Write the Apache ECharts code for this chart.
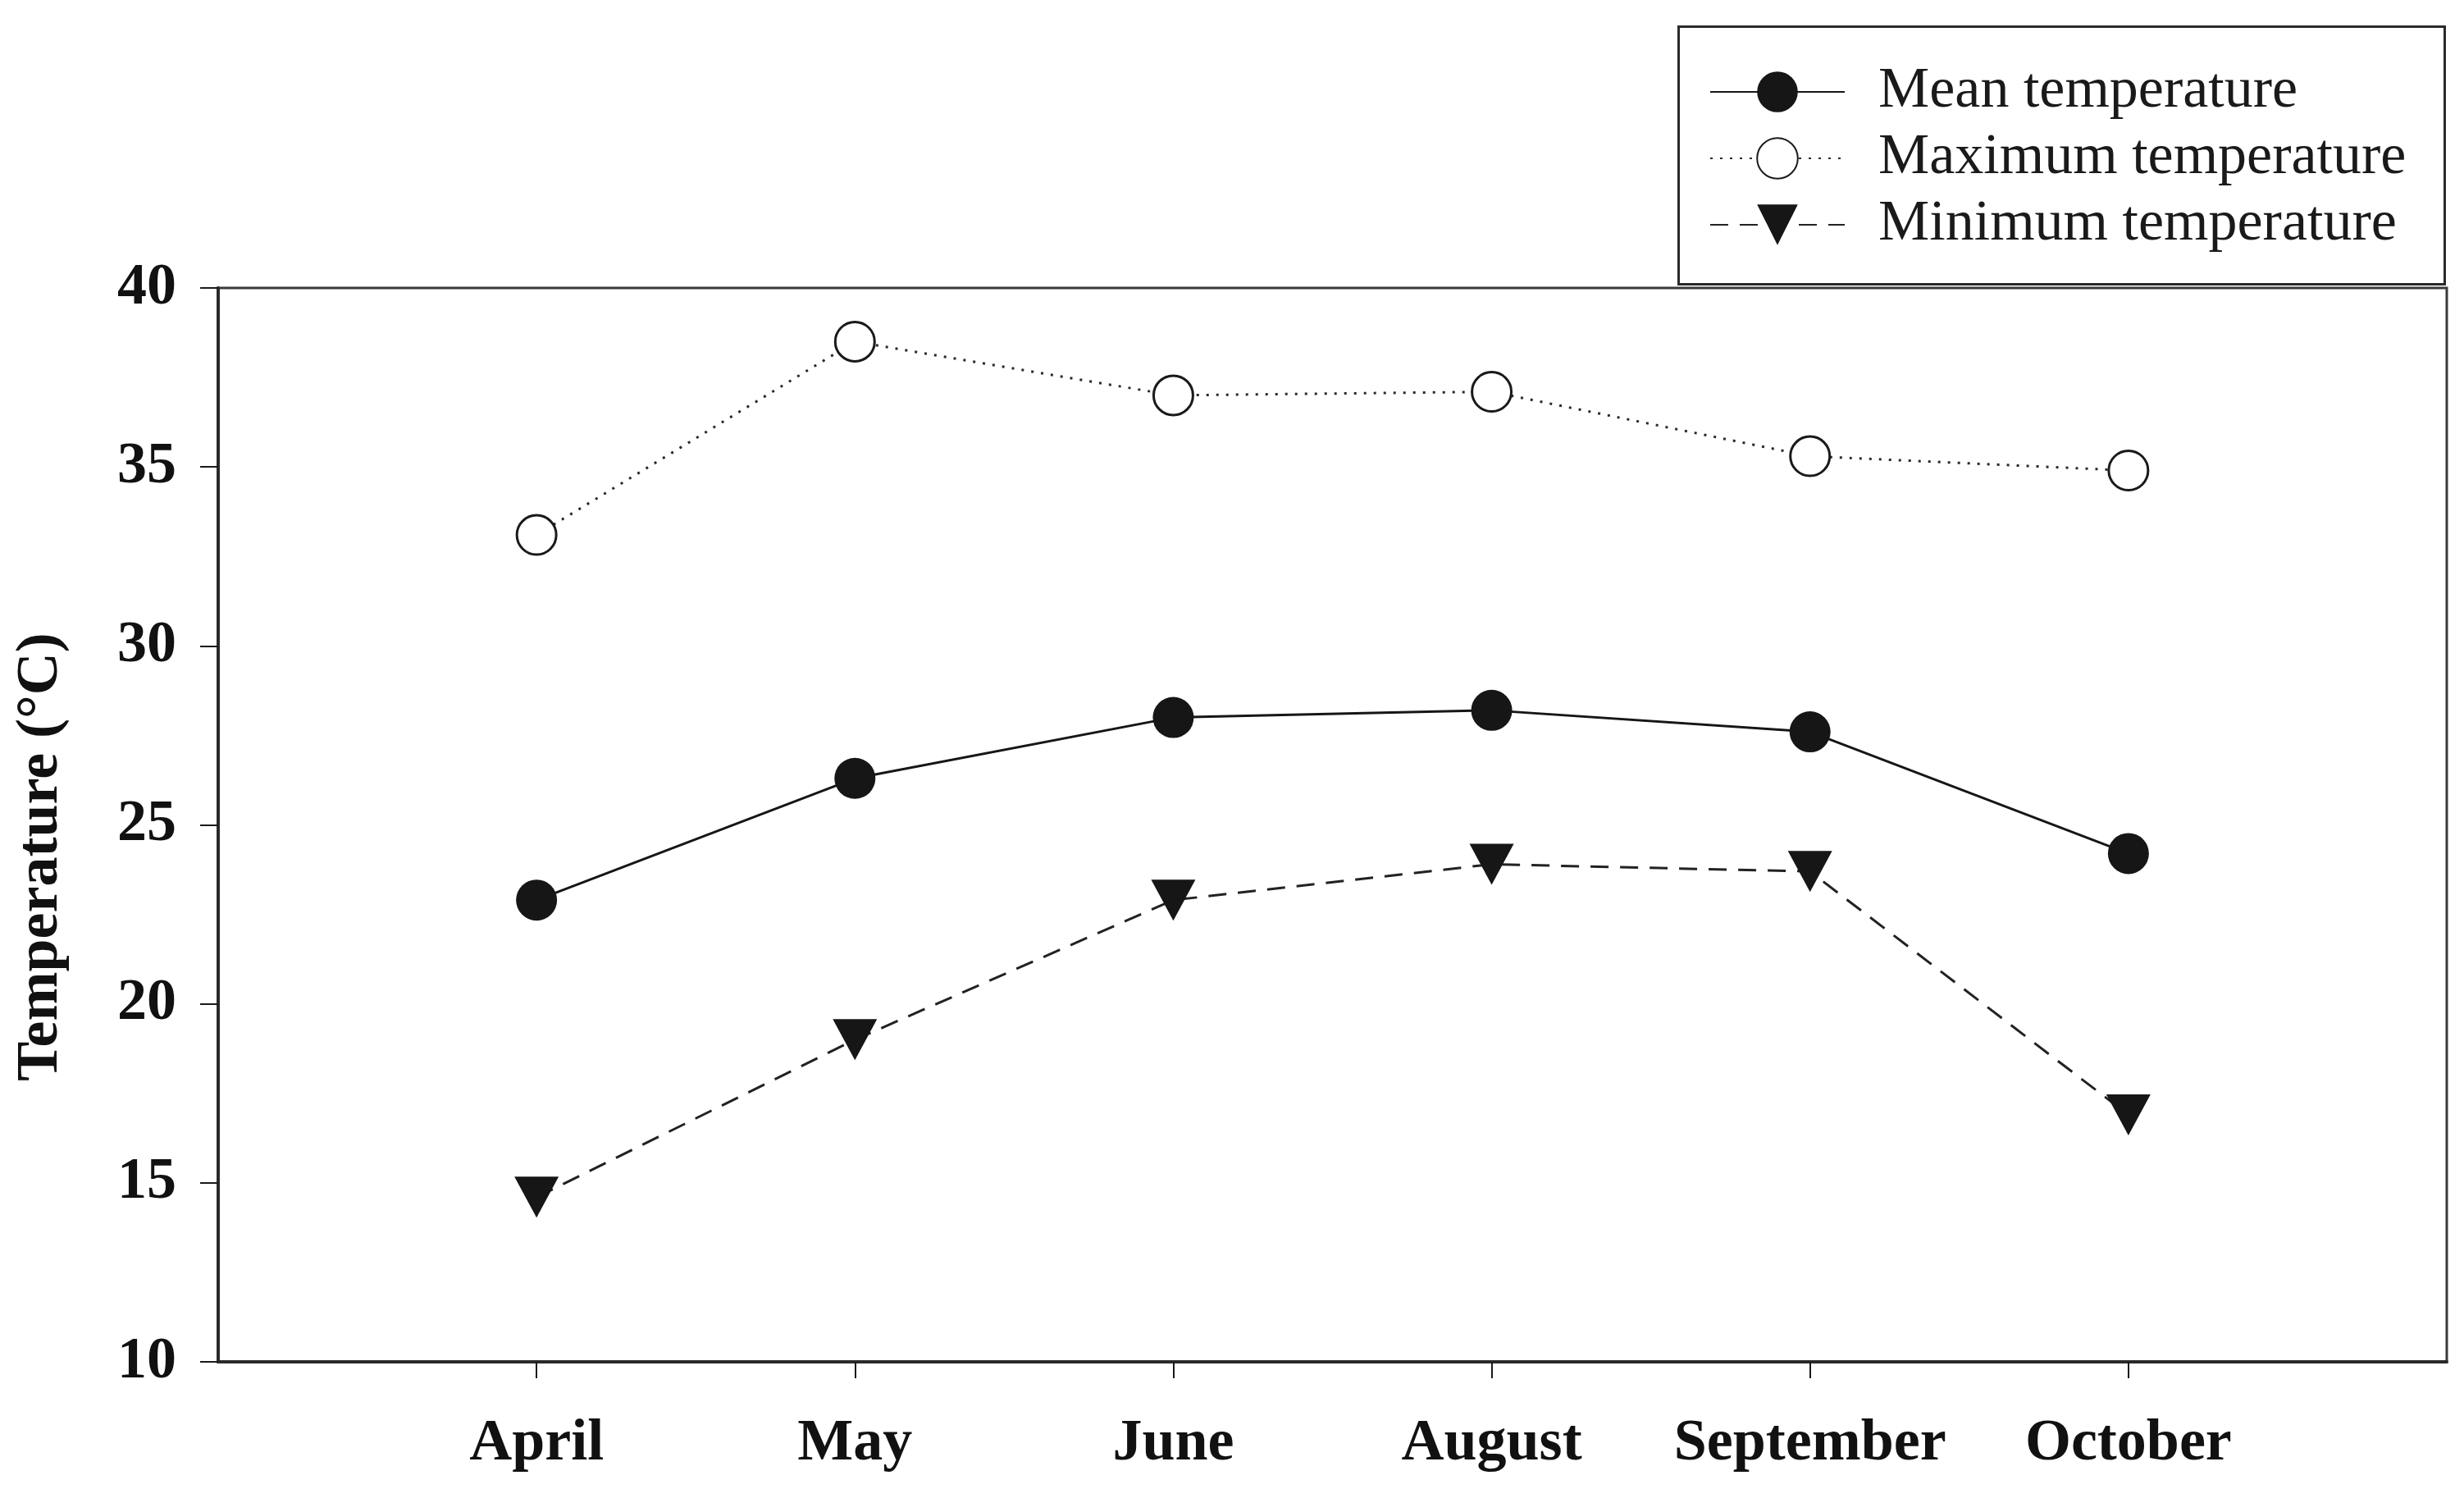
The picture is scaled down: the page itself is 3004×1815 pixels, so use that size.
<!DOCTYPE html>
<html>
<head>
<meta charset="utf-8">
<script src="https://cdn.jsdelivr.net/npm/echarts@6/dist/echarts.min.js"></script>
<style>
html,body{margin:0;padding:0;background:#fff;}
#chart{width:3004px;height:1815px;}
</style>
</head>
<body>
<div id="chart"></div>
<script>
// Data
const months = ['April', 'May', 'June', 'August', 'September', 'October'];
const meanTemp = [22.9, 26.3, 28.0, 28.2, 27.6, 24.2];
const maxTemp = [33.1, 38.5, 37.0, 37.1, 35.3, 34.9];
const minTemp = [14.6, 19.0, 22.9, 23.9, 23.7, 16.9];
const yTicks = [10, 15, 20, 25, 30, 35, 40];

// padded categories so that the first/last months sit one slot in from the frame
const xCategories = [' '].concat(months, ['  ']);

const FONT = "'Liberation Serif', 'Times New Roman', serif";
const toPairs = arr => arr.map((v, i) => [months[i], v]);

const chart = echarts.init(document.getElementById('chart'), null, {renderer: 'canvas'});
chart.setOption({
  backgroundColor: '#ffffff',
  animation: false,
  grid: {
    left: 266, right: 21, top: 351, bottom: 155,
    show: true, borderColor: '#3a3a3a', borderWidth: 3, backgroundColor: 'transparent'
  },
  graphic: [{
    type: 'rect', left: 2045, top: 31, z: 0,
    shape: {width: 934, height: 314},
    style: {fill: '#fff', stroke: '#2a2a2a', lineWidth: 3}
  }],
  legend: {
    orient: 'vertical', left: 2079, top: 72,
    itemWidth: 164, itemHeight: 62, itemGap: 11,
    selectedMode: false, z: 10,
    textStyle: {fontFamily: FONT, fontSize: 70, color: '#1a1a1a', padding: [0, 0, 0, 36], lineHeight: 62},
    data: ['Mean temperature', 'Maximum temperature', 'Minimum temperature']
  },
  xAxis: {
    type: 'category', data: xCategories, boundaryGap: false,
    axisLine: {lineStyle: {color: '#2a2a2a', width: 4}},
    axisTick: {show: true, inside: false, length: 20, lineStyle: {color: '#1a1a1a', width: 2},
      interval: (idx, val) => val.trim() !== ''},
    axisLabel: {interval: 0, margin: 64, fontFamily: FONT, fontWeight: 'bold', fontSize: 72, color: '#111'},
    splitLine: {show: false}
  },
  yAxis: {
    type: 'value', min: yTicks[0], max: yTicks[yTicks.length - 1], interval: yTicks[1] - yTicks[0],
    name: 'Temperature (°C)', nameLocation: 'middle', nameRotate: 90, nameGap: 180,
    nameTextStyle: {fontFamily: FONT, fontWeight: 'bold', fontSize: 72, color: '#111', padding: [0, 78, 0, 0]},
    axisLine: {show: true, lineStyle: {color: '#2a2a2a', width: 4}},
    axisTick: {show: true, inside: false, length: 22, lineStyle: {color: '#1a1a1a', width: 2}},
    axisLabel: {margin: 51, fontFamily: FONT, fontWeight: 'bold', fontSize: 72, color: '#111'},
    splitLine: {show: false}
  },
  series: [
    {
      name: 'Mean temperature', type: 'line', data: toPairs(meanTemp),
      symbol: 'circle', symbolSize: 50,
      itemStyle: {color: '#161616'},
      lineStyle: {color: '#161616', width: 3, type: 'solid'},
      z: 3
    },
    {
      name: 'Maximum temperature', type: 'line', data: toPairs(maxTemp),
      symbol: 'circle', symbolSize: 48,
      itemStyle: {color: '#ffffff', borderColor: '#1a1a1a', borderWidth: 3},
      lineStyle: {color: '#2a2a2a', width: 3, type: [3, 9]},
      z: 3
    },
    {
      name: 'Minimum temperature', type: 'line', data: toPairs(minTemp),
      symbol: 'triangle', symbolRotate: 180, symbolSize: [54, 50],
      itemStyle: {color: '#161616'},
      lineStyle: {color: '#222', width: 3, type: [22, 14]},
      z: 3
    }
  ]
});
</script>
</body>
</html>
